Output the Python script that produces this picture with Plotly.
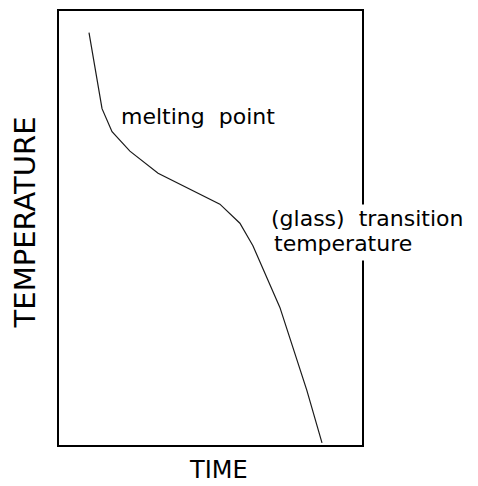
import plotly.graph_objects as go

# cooling curve (time, temperature in arbitrary 0-100 units)
time = [9.9, 14.2, 17.5, 23.4, 32.7, 53.1, 59.7, 64.0, 72.9, 81.8, 86.8]
temperature = [95.0, 77.5, 72.2, 67.7, 62.6, 55.5, 51.1, 45.9, 31.7, 12.6, 0.5]

x_title = "TIME"
y_title = "TEMPERATURE"
label_melt = "melting  point"
label_glass_1 = "(glass)  transition"
label_glass_2 = "temperature"

FONT = "DejaVu Sans, Liberation Sans, Arial, sans-serif"

fig = go.Figure()
fig.add_trace(go.Scatter(x=time, y=temperature, mode="lines",
                         line=dict(color="#1a1a1a", width=1.2),
                         hoverinfo="skip", showlegend=False))

fig.update_layout(
    width=478, height=486,
    margin=dict(l=59, r=116, t=9, b=41),
    paper_bgcolor="white", plot_bgcolor="white",
    font=dict(family=FONT, color="black"),
)
axis_common = dict(showgrid=False, zeroline=False, showticklabels=False,
                   ticks="", showline=True, linecolor="black", linewidth=2,
                   mirror=True, fixedrange=True)
fig.update_xaxes(range=[0, 100], **axis_common)
fig.update_yaxes(range=[0, 100], **axis_common)

fig.add_annotation(text=label_melt, x=19.8, y=75.8, xref="x", yref="y",
                   xanchor="left", yanchor="middle", showarrow=False,
                   font=dict(size=22, family=FONT, color="black"))
# second line first, so the first line's descenders sit on top of its white box
fig.add_annotation(text=label_glass_2, x=69.3, y=46.5, xref="x", yref="y",
                   xanchor="left", yanchor="middle", showarrow=False,
                   align="left", bgcolor="white", borderpad=4,
                   font=dict(size=22, family=FONT, color="black"))
fig.add_annotation(text=label_glass_1, x=69.3, y=52.2, xref="x", yref="y",
                   xanchor="left", yanchor="middle", showarrow=False,
                   align="left", bgcolor="white", borderpad=1,
                   font=dict(size=22, family=FONT, color="black"))
fig.add_annotation(text=x_title, x=0.528, y=-0.058, xref="paper", yref="paper",
                   xanchor="center", yanchor="middle", showarrow=False,
                   font=dict(size=24, family=FONT, color="black"))
fig.add_annotation(text=y_title, x=-0.114, y=0.514, xref="paper", yref="paper",
                   xanchor="center", yanchor="middle", showarrow=False,
                   textangle=-90,
                   font=dict(size=29, family=FONT, color="black"))

fig.write_html("out.html", config={"displayModeBar": False},
               post_script="document.body.style.margin='0';")
